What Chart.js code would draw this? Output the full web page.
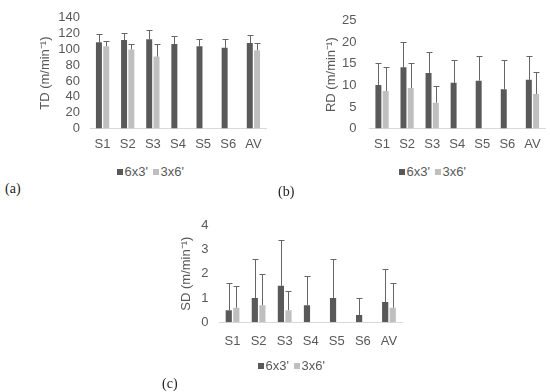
<!DOCTYPE html>
<html>
<head>
<meta charset="utf-8">
<script src="https://cdn.jsdelivr.net/npm/chart.js@4/dist/chart.umd.min.js"></script>
<style>
  html, body { margin: 0; padding: 0; background: #fff; }
  body { width: 550px; height: 392px; position: relative; overflow: hidden; }
  .panel { position: absolute; }
  .legend { position: absolute; font: 13px 'Liberation Sans', Arial, sans-serif; color: #595959; white-space: nowrap; line-height: 14px; }
  .legend span.box { display: inline-block; width: 6px; height: 6px; margin-right: 1.5px; vertical-align: 1px; }
  .legend span.item { margin-right: 5px; }
  .tag { position: absolute; font: 14px 'Liberation Serif', 'Times New Roman', serif; color: #222; }
</style>
</head>
<body>
<div class="panel" style="left:0;top:0;width:275px;height:160px"><canvas id="chartTD"></canvas></div>
<div class="panel" style="left:275px;top:0;width:275px;height:160px"><canvas id="chartRD"></canvas></div>
<div class="panel" style="left:130px;top:195px;width:290px;height:165px"><canvas id="chartSD"></canvas></div>
<div class="legend" id="legTD" style="left:117px;top:165px"></div>
<div class="legend" id="legRD" style="left:399px;top:165px"></div>
<div class="legend" id="legSD" style="left:258px;top:359px"></div>
<div class="tag" style="left:5px;top:181px">(a)</div>
<div class="tag" style="left:278px;top:184px">(b)</div>
<div class="tag" style="left:162px;top:376px">(c)</div>
<script>
// --- Data ---
const sessions = ['S1', 'S2', 'S3', 'S4', 'S5', 'S6', 'AV'];
const seriesNames = ["6x3'", "3x6'"];
const seriesColors = ['#595959', '#bfbfbf'];

// TD (m/min-1)
const td6x3 = [109, 112, 113, 107, 104, 102, 108];
const td6x3Err = [10, 9, 11, 10, 9, 11, 10];
const td3x6 = [104, 100, 91, null, null, null, 99];
const td3x6Err = [7, 7, 16, null, null, null, 9];

// RD (m/min-1)
const rd6x3 = [10.1, 14.2, 12.9, 10.6, 11.1, 9.1, 11.3];
const rd6x3Err = [5.0, 5.8, 4.9, 5.4, 5.7, 6.7, 5.5];
const rd3x6 = [8.7, 9.4, 6.0, null, null, null, 8.0];
const rd3x6Err = [5.6, 5.7, 3.9, null, null, null, 5.0];

// SD (m/min-1)
const sd6x3 = [0.5, 1.0, 1.5, 0.7, 1.0, 0.3, 0.83];
const sd6x3Err = [1.1, 1.6, 1.9, 1.2, 1.6, 0.7, 1.37];
const sd3x6 = [0.6, 0.7, 0.5, null, null, null, 0.6];
const sd3x6Err = [0.9, 1.3, 0.8, null, null, null, 1.0];

Chart.defaults.font.family = "'Liberation Sans', Arial, sans-serif";
Chart.defaults.font.size = 13;
Chart.defaults.color = '#595959';

// upper error bars drawn from the bar top
const errorBars = {
    id: 'errorBars',
    afterDatasetsDraw(chart) {
        const ctx = chart.ctx;
        const yScale = chart.scales.y;
        chart.data.datasets.forEach((ds, di) => {
            const meta = chart.getDatasetMeta(di);
            meta.data.forEach((bar, i) => {
                const v = ds.data[i];
                const e = ds.errors[i];
                if (v == null || e == null) return;
                const x = Math.round(bar.x) + 0.5;
                const yTop = Math.round(yScale.getPixelForValue(v + e)) + 0.5;
                ctx.save();
                ctx.strokeStyle = '#666666';
                ctx.lineWidth = 1;
                ctx.beginPath();
                ctx.moveTo(x, bar.y);
                ctx.lineTo(x, yTop);
                ctx.moveTo(x - 3, yTop);
                ctx.lineTo(x + 3, yTop);
                ctx.stroke();
                ctx.restore();
            });
        });
    }
};

const makeChart = (id, o) => {
    new Chart(document.getElementById(id), {
        type: 'bar',
        data: {
            labels: sessions,
            datasets: [
                { label: seriesNames[0], data: o.a, errors: o.aErr, backgroundColor: seriesColors[0] },
                { label: seriesNames[1], data: o.b, errors: o.bErr, backgroundColor: seriesColors[1] }
            ]
        },
        options: {
            responsive: true,
            maintainAspectRatio: false,
            animation: false,
            categoryPercentage: 0.58,
            barPercentage: 0.82,
            layout: { padding: o.pad },
            plugins: { legend: { display: false }, tooltip: { enabled: false } },
            scales: {
                x: {
                    grid: { display: false, drawTicks: false },
                    border: { color: '#d9d9d9' },
                    ticks: { padding: o.xPad, color: '#595959', autoSkip: false, maxRotation: 0 },
                    afterFit: s => { s.height = o.xHeight; }
                },
                y: {
                    min: 0,
                    max: o.max,
                    grid: { display: false, drawTicks: false },
                    border: { display: false },
                    ticks: { stepSize: o.step, padding: o.yPad, color: '#595959', autoSkip: false },
                    title: { display: true, text: o.title, color: '#595959', font: { size: 13 }, padding: { top: 0, bottom: 0 } },
                    afterFit: s => { s.width = o.yWidth; }
                }
            }
        },
        plugins: [errorBars]
    });
};

const makeLegend = id => {
    document.getElementById(id).innerHTML = seriesNames.map((n, i) =>
        `<span class="item"><span class="box" style="background:${seriesColors[i]}"></span>${n}</span>`).join('');
};

makeChart('chartTD', {
    a: td6x3, aErr: td6x3Err, b: td3x6, bErr: td3x6Err, max: 140, step: 20,
    title: 'TD (m/min⁻¹)', pad: { left: 37.5, top: 10, right: 9, bottom: 0 },
    yWidth: 52.5, xHeight: 31.5, xPad: 8, yPad: 10
});
makeChart('chartRD', {
    a: rd6x3, aErr: rd6x3Err, b: rd3x6, bErr: rd3x6Err, max: 25, step: 5,
    title: 'RD (m/min⁻¹)', pad: { left: 49, top: 10, right: 5, bottom: 0 },
    yWidth: 45.5, xHeight: 31.5, xPad: 8, yPad: 13
});
makeChart('chartSD', {
    a: sd6x3, aErr: sd6x3Err, b: sd3x6, bErr: sd3x6Err, max: 4, step: 1,
    title: 'SD (m/min⁻¹)', pad: { left: 49, top: 30, right: 18, bottom: 0 },
    yWidth: 40.5, xHeight: 37.7, xPad: 11, yPad: 11
});

makeLegend('legTD');
makeLegend('legRD');
makeLegend('legSD');
</script>
</body>
</html>
